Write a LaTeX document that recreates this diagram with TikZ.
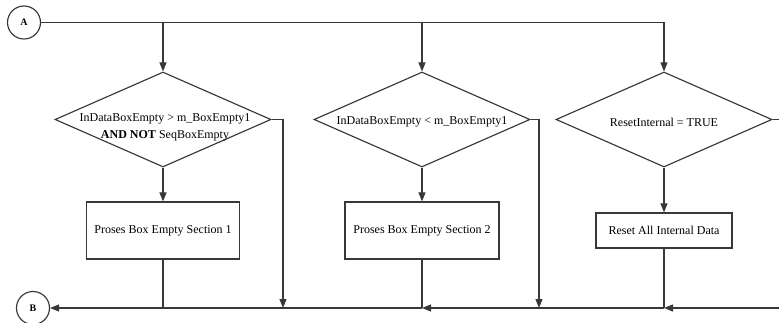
\documentclass[tikz,border=0pt]{standalone}
\usepackage{fontspec}
\setmainfont{Liberation Serif}
\usetikzlibrary{shapes.geometric,arrows.meta}
\begin{document}
\begin{tikzpicture}[x=1pt,y=-1pt,
  line/.style={draw=black!78, line width=1.15pt},
  arr/.style={line, -{Triangle[length=9pt,width=7pt]}},
  connector/.style={circle, draw=black!78, line width=1.15pt, minimum size=33pt,
    inner sep=0pt, font=\fontsize{10}{12}\selectfont\bfseries},
  decision/.style={diamond, draw=black!78, line width=1.15pt, minimum width=216pt,
    minimum height=95pt, inner sep=0pt},
  process/.style={rectangle, draw=black!78, line width=1.15pt,
    font=\fontsize{12}{14}\selectfont},
  txt/.style={font=\fontsize{12}{17}\selectfont, align=center, inner sep=0pt}]
\useasboundingbox (0,0) rectangle (779,323);

% connectors
\node[connector] (A) at (24,22.5) {A};
\node[connector] (B) at (33,308) {B};

% decisions
\node[decision] (d1) at (163,119.5) {};
\node[decision] (d2) at (422,119.5) {};
\node[decision] (d3) at (664,119.5) {};
\node[txt] (t1) at (165,127) {InDataBoxEmpty > m\_BoxEmpty1\\\textbf{AND NOT} SeqBoxEmpty};
\node[txt] (t2) at (422,122) {InDataBoxEmpty < m\_BoxEmpty1};
\node[txt] (t3) at (664,122) {ResetInternal = TRUE};

% processes
\node[process, minimum width=153pt, minimum height=57pt] (p1) at (163,230.5) {Proses Box Empty Section 1};
\node[process, minimum width=154pt, minimum height=57pt] (p2) at (422,230.5) {Proses Box Empty Section 2};
\node[process, minimum width=136pt, minimum height=35pt] (p3) at (664,230.5) {Reset All Internal Data};

% routing points
\coordinate (j1) at (163,22.5);
\coordinate (j2) at (422,22.5);
\coordinate (j3) at (664,22.5);
\coordinate (r1) at (283,119.5);
\coordinate (r2) at (539,119.5);
\coordinate (r3) at (779,119.5);
\coordinate (b1) at (283,308);
\coordinate (b2) at (539,308);
\coordinate (m1) at (163,308);
\coordinate (m2) at (422,308);
\coordinate (m3) at (664,308);
\coordinate (e) at (779,308);

% top bus
\draw[line] (A.east) -- (j3);
\draw[arr] (j1) -- (d1.north);
\draw[arr] (j2) -- (d2.north);
\draw[arr] (j3) -- (d3.north);

% yes branches
\draw[arr] (d1.south) -- (p1.north);
\draw[arr] (d2.south) -- (p2.north);
\draw[arr] (d3.south) -- (p3.north);
\draw[line] (p1.south) -- (m1);
\draw[line] (p2.south) -- (m2);
\draw[line] (p3.south) -- (m3);

% no branches
\draw[arr] (d1.east) -- (r1) -- (b1);
\draw[arr] (d2.east) -- (r2) -- (b2);
\draw[line] (d3.east) -- (r3);

% bottom bus
\draw[arr] (e) -- (m3);
\draw[arr] (m3) -- (m2);
\draw[arr] (m2) -- (B);
\end{tikzpicture}
\end{document}
